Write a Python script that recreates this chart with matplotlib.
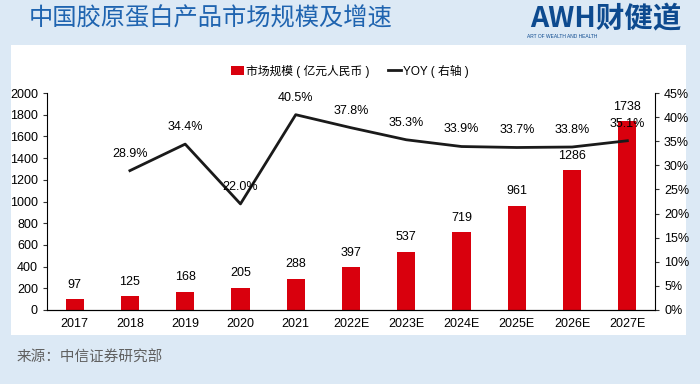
import matplotlib.pyplot as plt
from matplotlib.patches import Rectangle

plt.rcParams['font.family'] = ['Liberation Sans Narrow', 'Liberation Sans', 'Noto Sans CJK SC', 'DejaVu Sans']

# Data
years = ["2017", "2018", "2019", "2020", "2021", "2022E", "2023E",
         "2024E", "2025E", "2026E", "2027E"]
market_size = [97, 125, 168, 205, 288, 397, 537, 719, 961, 1286, 1738]
yoy_years = years[1:]
yoy = [28.9, 34.4, 22.0, 40.5, 37.8, 35.3, 33.9, 33.7, 33.8, 35.1]

bg = "#dce9f5"
fig = plt.figure(figsize=(7, 3.84), dpi=100, facecolor=bg)

# white panel behind the chart
fig.patches.append(Rectangle((11 / 700, 1 - 335 / 384), 675 / 700, 290 / 384,
                             transform=fig.transFigure, facecolor="white",
                             edgecolor="none", zorder=-10))

ax = fig.add_axes([47 / 700, 74 / 384, 608 / 700, 217 / 384])
ax.set_facecolor("none")
x = list(range(len(years)))
bars = ax.bar(x, market_size, 0.33, color="#d9000d", zorder=2)
ax.set_xlim(-0.5, len(years) - 0.5)
ax.set_ylim(0, 2000)
ax.set_yticks(range(0, 2001, 200))
ax.set_xticks(x)
ax.set_xticklabels(years)
ax.tick_params(axis="both", labelsize=9, length=3, color="#333333")
ax.tick_params(axis="x", length=0, pad=6)
ax.spines["top"].set_visible(False)
ax.spines["right"].set_visible(False)

for rect, v in zip(bars, market_size):
    ax.annotate(str(v), xy=(rect.get_x() + rect.get_width() / 2, v),
                xytext=(0, 6), textcoords="offset points",
                ha="center", va="bottom", fontsize=9)

ax2 = ax.twinx()
ax2.set_ylim(0, 45)
ax2.set_yticks(range(0, 46, 5))
ax2.set_yticklabels([f"{t}%" for t in range(0, 46, 5)])
ax2.tick_params(axis="y", labelsize=9, length=3, color="#333333")
ax2.spines["top"].set_visible(False)
ax2.spines["left"].set_visible(False)
line, = ax2.plot(x[1:], yoy, color="#1a1a1a", lw=2, zorder=3)
for xi, v in zip(x[1:], yoy):
    ax2.annotate(f"{v:.1f}%", xy=(xi, v), xytext=(0, 8), textcoords="offset points",
                 ha="center", va="bottom", fontsize=9)

fig.legend([bars, line], ["市场规模 ( 亿元人民币 )", "YOY ( 右轴 )"],
           loc="center", bbox_to_anchor=(350 / 700, 1 - 71 / 384), ncol=2,
           frameon=False, fontsize=8.5, handlelength=1.1, columnspacing=1.6,
           handletextpad=0.15)

fig.text(29 / 700, 1 - 19 / 384, "中国胶原蛋白产品市场规模及增速",
         fontsize=17.5, color="#1f64b0", family=["Noto Sans CJK SC"],
         fontweight="medium", ha="left", va="center")
fig.text(681 / 700, 1 - 19 / 384, "AWH财健道", fontsize=20.5, fontweight="bold",
         color="#0d4a8f", family=["Noto Sans CJK SC"], ha="right", va="center")
fig.text(527 / 700, 1 - 37 / 384, "ART OF WEALTH AND HEALTH", fontsize=3.5,
         color="#0d4a8f", ha="left", va="center")
fig.text(17 / 700, 1 - 358 / 384, "来源：中信证券研究部", fontsize=10.5,
         color="#606060", family=["Noto Sans CJK SC"], ha="left", va="center")

fig.savefig("out.png", dpi=100, facecolor=bg)
